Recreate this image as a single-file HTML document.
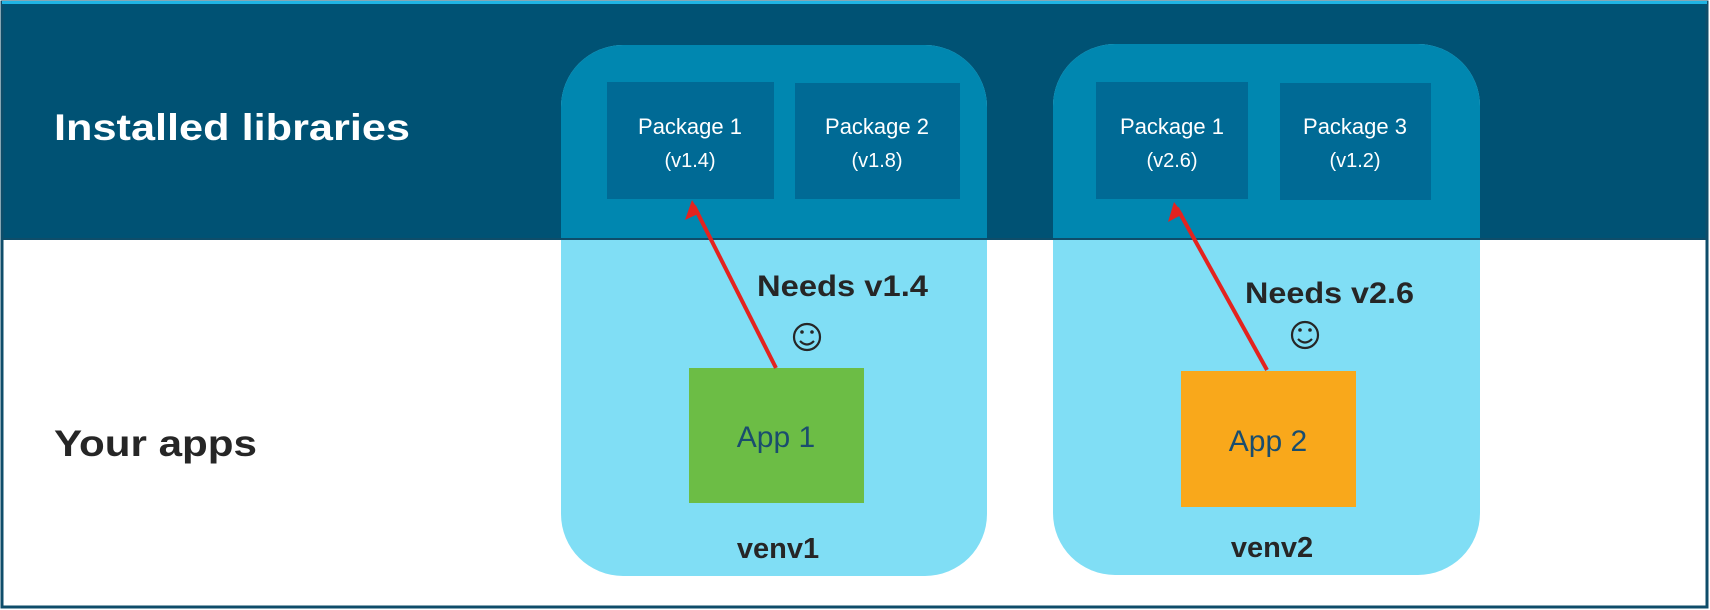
<!DOCTYPE html>
<html><head><meta charset="utf-8"><style>
html,body{margin:0;padding:0;background:#fff;}
svg{display:block;}
text{font-family:"Liberation Sans","DejaVu Sans",sans-serif;}
</style></head><body>
<svg width="1710" height="610" viewBox="0 0 1710 610" xmlns="http://www.w3.org/2000/svg">
<defs>
<clipPath id="top"><rect x="0" y="0" width="1710" height="239"/></clipPath>
</defs>
<rect x="0" y="0" width="1710" height="610" fill="#fff"/>
<rect x="2" y="2" width="1705" height="237" fill="#005274"/>
<rect x="561" y="45" width="426" height="531" rx="62" fill="#80def5"/>
<rect x="1053" y="44" width="427" height="531" rx="62" fill="#80def5"/>
<g clip-path="url(#top)">
<rect x="561" y="45" width="426" height="531" rx="62" fill="#0087b0"/>
<rect x="1053" y="44" width="427" height="531" rx="62" fill="#0087b0"/>
</g>
<line x1="2" y1="239" x2="1707" y2="239" stroke="#0e4d6a" stroke-width="2"/>
<rect x="2" y="2" width="1705" height="605" fill="none" stroke="#0e4d6a" stroke-width="3"/>
<rect x="2" y="1" width="1705" height="3" fill="#1fb5e5"/>
<rect x="607" y="82" width="167" height="117" fill="#006a95"/>
<rect x="795" y="83" width="165" height="116" fill="#006a95"/>
<rect x="1096" y="82" width="152" height="117" fill="#006a95"/>
<rect x="1280" y="83" width="151" height="117" fill="#006a95"/>
<g fill="#fff" font-size="22" text-anchor="middle">
<text x="690" y="134">Package 1</text><text x="690" y="167" font-size="20">(v1.4)</text>
<text x="877" y="134">Package 2</text><text x="877" y="167" font-size="20">(v1.8)</text>
<text x="1172" y="134">Package 1</text><text x="1172" y="167" font-size="20">(v2.6)</text>
<text x="1355" y="134">Package 3</text><text x="1355" y="167" font-size="20">(v1.2)</text>
</g>
<text x="54" y="140" fill="#fff" font-size="37" font-weight="bold" textLength="356" lengthAdjust="spacingAndGlyphs">Installed libraries</text>
<text x="54" y="456" fill="#262626" font-size="37" font-weight="bold" textLength="203" lengthAdjust="spacingAndGlyphs">Your apps</text>
<rect x="689" y="368" width="175" height="135" fill="#6cbd45"/>
<rect x="1181" y="371" width="175" height="136" fill="#f9a81b"/>
<text x="776" y="447" fill="#1a4d6e" font-size="30" text-anchor="middle">App 1</text>
<text x="1268" y="451" fill="#1a4d6e" font-size="30" text-anchor="middle">App 2</text>
<g fill="#262626" font-weight="bold" font-size="30">
<text x="757" y="296" textLength="171" lengthAdjust="spacingAndGlyphs">Needs v1.4</text>
<text x="1245" y="303" textLength="169" lengthAdjust="spacingAndGlyphs">Needs v2.6</text>
<text x="778" y="558" text-anchor="middle" font-size="29">venv1</text>
<text x="1272" y="557" text-anchor="middle" font-size="29">venv2</text>
</g>
<g fill="none" stroke="#262626" stroke-width="2.2">
<circle cx="807" cy="337" r="13"/>
<circle cx="1305" cy="335" r="13"/>
<path d="M800,341 Q807,348 814,341"/>
<path d="M1298,339 Q1305,346 1312,339"/>
</g>
<g fill="#262626">
<circle cx="802" cy="332" r="1.8"/><circle cx="812" cy="332" r="1.8"/>
<circle cx="1300" cy="330" r="1.8"/><circle cx="1310" cy="330" r="1.8"/>
</g>
<line x1="776" y1="368" x2="694" y2="206" stroke="#e3231f" stroke-width="4"/>
<path d="M692,200 L685,220 L700,213 z" fill="#e3231f"/>
<line x1="1267" y1="370" x2="1177" y2="208" stroke="#e3231f" stroke-width="4"/>
<path d="M1174,202 L1168,222 L1183,214 z" fill="#e3231f"/>
</svg>
</body></html>
